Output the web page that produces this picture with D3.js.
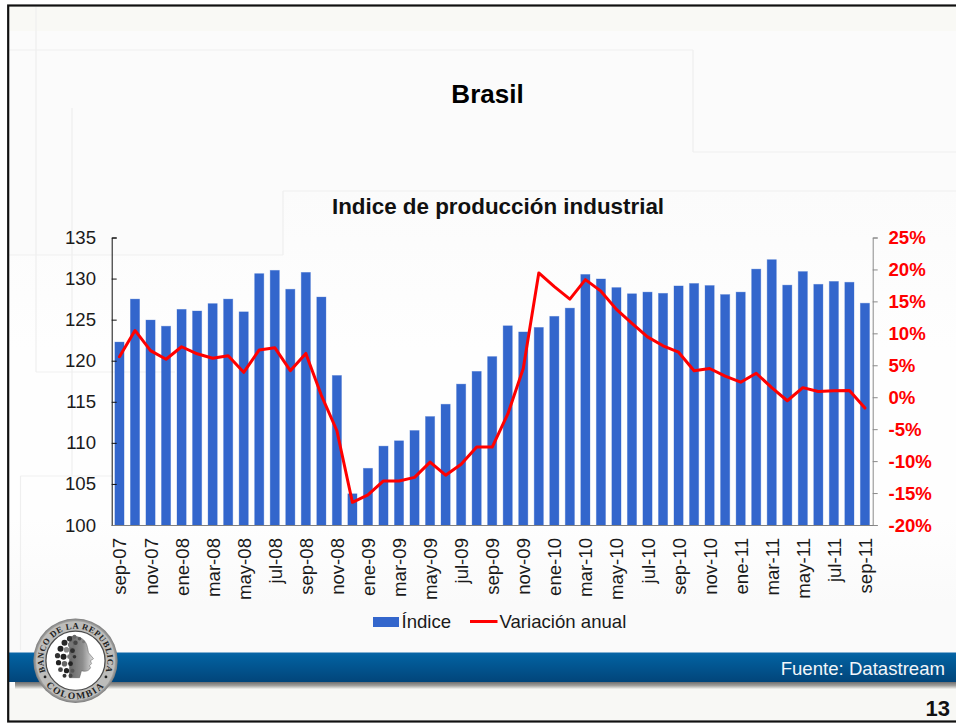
<!DOCTYPE html>
<html lang="es">
<head>
<meta charset="utf-8">
<title>Brasil - Indice de producción industrial</title>
<script src="https://cdn.jsdelivr.net/npm/d3@7"></script>
<style>
html,body{margin:0;padding:0;background:#fff;overflow:hidden}
svg{display:block}
text{font-family:"Liberation Sans",Arial,sans-serif}
</style>
</head>
<body>
<div id="chart"></div>
<script>
const categories = ["sep-07","oct-07","nov-07","dic-07","ene-08","feb-08","mar-08","abr-08","may-08","jun-08","jul-08","ago-08","sep-08","oct-08","nov-08","dic-08","ene-09","feb-09","mar-09","abr-09","may-09","jun-09","jul-09","ago-09","sep-09","oct-09","nov-09","dic-09","ene-10","feb-10","mar-10","abr-10","may-10","jun-10","jul-10","ago-10","sep-10","oct-10","nov-10","dic-10","ene-11","feb-11","mar-11","abr-11","may-11","jun-11","jul-11","ago-11","sep-11"];
const indice = [122.27,127.5,124.95,124.2,126.25,126.05,126.95,127.5,125.95,130.6,131.0,128.7,130.75,127.75,118.2,103.8,106.9,109.6,110.25,111.5,113.2,114.7,117.15,118.7,120.5,124.25,123.5,124.05,125.4,126.4,130.5,129.95,128.9,128.15,128.35,128.2,129.1,129.4,129.15,128.05,128.35,131.15,132.3,129.2,130.85,129.3,129.65,129.55,127.0];
const variacion = [6.33,10.45,7.3,5.95,7.9,6.8,6.1,6.5,3.9,7.4,7.75,4.15,6.85,0.3,-5.25,-16.45,-15.3,-13.1,-13.1,-12.55,-10.15,-12.2,-10.5,-7.8,-7.8,-2.65,4.5,19.45,17.3,15.35,18.4,16.6,13.75,11.55,9.45,8.05,7.05,4.15,4.5,3.3,2.35,3.75,1.5,-0.55,1.5,0.9,1.0,1.05,-1.7];
const leftTicks = [100,105,110,115,120,125,130,135];
const rightTicks = [-20,-15,-10,-5,0,5,10,15,20,25];
const slideTitle = "Brasil";
const chartTitle = "Indice de producción industrial";
const seriesNames = ["Índice","Variación anual"];
const sourceText = "Fuente: Datastream";
const pageNumber = "13";

const W = 956, H = 723;
const svg = d3.select("#chart").append("svg").attr("width",W).attr("height",H).attr("viewBox",`0 0 ${W} ${H}`);
const defs = svg.append("defs");

/* slide background */
const bgGrad = defs.append("linearGradient").attr("id","bg").attr("x1",0).attr("x2",0).attr("y1",0).attr("y2",1);
[[0,"#fbfbfb"],[0.3,"#fefefe"],[0.62,"#fefefe"],[0.78,"#fafafa"],[1,"#fafafa"]].forEach(s=>bgGrad.append("stop").attr("offset",s[0]).attr("stop-color",s[1]));
svg.append("rect").attr("x",8).attr("y",5).attr("width",W).attr("height",716).attr("fill","#fbfbfb");
svg.append("rect").attr("x",8).attr("y",190).attr("width",W).attr("height",530).attr("fill","url(#bg)");
svg.append("rect").attr("x",8).attr("y",5).attr("width",W).attr("height",26).attr("fill","#f9f9f5");
svg.append("rect").attr("x",8).attr("y",688).attr("width",W).attr("height",33).attr("fill","#f8f8f5");
svg.append("rect").attr("x",8).attr("y",31).attr("width",275).attr("height",224).attr("fill","#fbfbfb");

const faint = [[36,7,36,372],[36,372,175,372],[72,108,72,476],[9,50,693,50],[693,50,693,152],[693,152,956,152],[283,191,956,191],[283,191,283,255],[9,255,283,255],[20.5,476,20.5,650],[20.5,476,112,476]];
svg.append("g").selectAll("line").data(faint).join("line")
  .attr("x1",d=>d[0]).attr("y1",d=>d[1]).attr("x2",d=>d[2]).attr("y2",d=>d[3])
  .attr("stroke","#efefef").attr("stroke-width",1.2);

/* footer band */
const bandGrad = defs.append("linearGradient").attr("id","band").attr("x1",0).attr("x2",0).attr("y1",0).attr("y2",1);
[[0,"#0a66a8"],[0.12,"#02609f"],[1,"#02457a"]].forEach(s=>bandGrad.append("stop").attr("offset",s[0]).attr("stop-color",s[1]));
const shadowGrad = defs.append("linearGradient").attr("id","shadow").attr("x1",0).attr("x2",0).attr("y1",0).attr("y2",1);
[[0,"#6f6f6f"],[0.5,"#a09f9c"],[1,"#f4f4f1"]].forEach(s=>shadowGrad.append("stop").attr("offset",s[0]).attr("stop-color",s[1]));
svg.append("rect").attr("x",15).attr("y",682).attr("width",W).attr("height",7).attr("fill","url(#shadow)");
svg.append("rect").attr("x",9).attr("y",652.5).attr("width",W).attr("height",29.5).attr("fill","url(#band)");
svg.append("text").attr("x",945).attr("y",675).attr("text-anchor","end").attr("font-size",18.6).attr("fill","#f2f6fa").text(sourceText);
svg.append("text").attr("x",950).attr("y",716).attr("text-anchor","end").attr("font-size",22).attr("font-weight","bold").attr("fill","#111").text(pageNumber);

/* frame */
svg.append("rect").attr("x",8.2).attr("y",5.5).attr("width",W+20).attr("height",716).attr("fill","none").attr("stroke","#111").attr("stroke-width",2.2);

/* titles */
svg.append("text").attr("x",487.5).attr("y",103).attr("text-anchor","middle").attr("font-size",26).attr("font-weight","bold").attr("fill","#000").text(slideTitle);
svg.append("text").attr("x",498).attr("y",213.5).attr("text-anchor","middle").attr("font-size",22.4).attr("font-weight","bold").attr("fill","#111").text(chartTitle);

/* scales */
const plot = {left:111.7,right:872.7,top:237.5,bottom:525};
const x = d3.scaleBand().domain(categories).range([plot.left,plot.right]).paddingInner(0.41).paddingOuter(0.205);
const yL = d3.scaleLinear().domain([100,135]).range([plot.bottom,plot.top]);
const yR = d3.scaleLinear().domain([-20,25]).range([plot.bottom,plot.top]);

/* bars */
svg.append("g").selectAll("rect").data(indice).join("rect")
  .attr("x",(d,i)=>x(categories[i])).attr("width",x.bandwidth())
  .attr("y",d=>yL(d)).attr("height",d=>yL(100)-yL(d))
  .attr("fill","#3366cc").attr("stroke","#3366cc").attr("stroke-opacity",0.4).attr("stroke-width",0.8);

/* axes */
const axL = svg.append("g").attr("transform",`translate(${plot.left},0)`)
  .call(d3.axisRight(yL).tickValues(leftTicks).tickSize(5).tickFormat(""));
axL.selectAll("path,line").attr("stroke","#111").attr("stroke-width",1);
svg.append("g").selectAll("text").data(leftTicks).join("text")
  .attr("x",96).attr("y",d=>yL(d)+6.5).attr("text-anchor","end").attr("font-size",18.6).attr("fill","#1a1a1a").text(d=>d);

const axR = svg.append("g").attr("transform",`translate(${plot.right},0)`)
  .call(d3.axisRight(yR).tickValues(rightTicks).tickSize(5).tickFormat(""));
axR.selectAll("path,line").attr("stroke","#8a8a8a").attr("stroke-width",1);
svg.append("g").selectAll("text").data(rightTicks).join("text")
  .attr("x",888.5).attr("y",d=>yR(d)+6.5).attr("font-size",18.6).attr("font-weight","bold").attr("fill","#ff0000").text(d=>d+"%");

const axB = svg.append("g").attr("transform",`translate(0,${plot.bottom})`)
  .call(d3.axisBottom(x).tickValues(categories.filter((d,i)=>i%2===0)).tickSize(0).tickPadding(13).tickFormat(d=>d));
axB.select("path").attr("stroke","#808080").attr("stroke-width",1);
axB.selectAll("text")
  .attr("font-family","'Liberation Sans',Arial,sans-serif").attr("font-size",18.6).attr("fill","#1a1a1a")
  .attr("text-anchor","end")
  .attr("x",0).attr("y",0).attr("dy",null)
  .attr("transform","translate(7,13) rotate(-90)");

/* line */
const line = d3.line().x((d,i)=>x(categories[i])+x.bandwidth()/2).y(d=>yR(d));
svg.append("path").datum(variacion).attr("d",line).attr("fill","none").attr("stroke","#ff0000").attr("stroke-width",3).attr("stroke-linejoin","round").attr("stroke-linecap","round");

/* legend */
svg.append("rect").attr("x",373).attr("y",617).attr("width",26).attr("height",10).attr("fill","#3366cc");
svg.append("text").attr("x",401.5).attr("y",627.5).attr("font-size",18.6).attr("fill","#1a1a1a").text(seriesNames[0]);
svg.append("line").attr("x1",470).attr("x2",497.5).attr("y1",621.5).attr("y2",621.5).attr("stroke","#ff0000").attr("stroke-width",3);
svg.append("text").attr("x",499.5).attr("y",627.5).attr("font-size",18.6).attr("fill","#1a1a1a").text(seriesNames[1]);

/* seal */
const cx=75.5, cy=660.7;
const logo = svg.append("g").attr("transform",`translate(${cx},${cy})`);
const ring = defs.append("radialGradient").attr("id","ring");
[[0.7,"#8d8d8d"],[0.92,"#b0b0ae"],[1,"#7c7c7c"]].forEach(s=>ring.append("stop").attr("offset",s[0]).attr("stop-color",s[1]));
logo.append("circle").attr("r",42.2).attr("fill","url(#ring)");
logo.append("circle").attr("r",39.5).attr("fill","#bdbdbb");
logo.append("circle").attr("r",29.6).attr("fill","#fff").attr("stroke","#4d4d4d").attr("stroke-width",1.3);
const polar = (deg,r)=>{const a=deg*Math.PI/180;return [r*Math.sin(a),-r*Math.cos(a)];};
const [tx0,ty0]=polar(-108,32), [tx1,ty1]=polar(108,32);
defs.append("path").attr("id","arcTop").attr("d",`M${tx0},${ty0} A32,32 0 1 1 ${tx1},${ty1}`);
const [bx0,by0]=polar(-125,38.5), [bx1,by1]=polar(125,38.5);
defs.append("path").attr("id","arcBot").attr("d",`M${bx0},${by0} A38.5,38.5 0 0 0 ${bx1},${by1}`);
logo.append("text").attr("font-size",8.6).attr("font-weight","bold").attr("fill","#222").style("font-family","'Liberation Serif',serif").attr("letter-spacing",0.55)
  .append("textPath").attr("href","#arcTop").attr("startOffset","50%").attr("text-anchor","middle").text("BANCO DE LA REPUBLICA");
logo.append("text").attr("font-size",9.6).attr("font-weight","bold").attr("fill","#222").style("font-family","'Liberation Serif',serif").attr("letter-spacing",1.6)
  .append("textPath").attr("href","#arcBot").attr("startOffset","50%").attr("text-anchor","middle").text("COLOMBIA");
logo.selectAll("circle.dot").data([polar(-118,34.5),polar(118,34.5)]).join("circle").attr("class","dot").attr("cx",d=>d[0]).attr("cy",d=>d[1]).attr("r",1.4).attr("fill","#222");
const face = defs.append("linearGradient").attr("id","face").attr("x1",0).attr("x2",1).attr("y1",0).attr("y2",0);
[[0,"#666"],[0.55,"#8e8e8e"],[0.85,"#c4c4c4"],[1,"#e0e0e0"]].forEach(s=>face.append("stop").attr("offset",s[0]).attr("stop-color",s[1]));
defs.append("filter").attr("id","soft").append("feGaussianBlur").attr("stdDeviation",0.45);
const head = logo.append("g").attr("filter","url(#soft)");
head.append("path").attr("d","M-6,-24 C5,-26 11,-20 12,-13 L13,-8 L18,-2 L15,0 L16,3 L14,5 L15,7 C13,11 9,11 6,10 L4,17 L-6,17 Z").attr("fill","url(#face)").attr("stroke","#555").attr("stroke-width",0.5);
const curls=[[-6,-22,2.6,"#333"],[-1,-24,2,"#666"],[-11,-18,3,"#2a2a2a"],[-5,-16,2.6,"#777"],[0,-18,2.2,"#444"],[-15,-12,3,"#222"],[-9,-11,2.8,"#888"],[-3,-10,2.4,"#2d2d2d"],[-18,-5,2.6,"#333"],[-12,-4,3,"#222"],[-6,-4,2.4,"#777"],[-1,-4,1.8,"#333"],[-17,2,2.6,"#222"],[-11,3,2.8,"#666"],[-5,3,2.4,"#222"],[-15,9,2.4,"#444"],[-9,10,2.6,"#222"],[-3,10,2,"#555"],[-11,15,2,"#333"],[-5,15,2,"#444"],[4,-22,1.8,"#555"],[8,-19,1.5,"#777"]];
head.append("g").selectAll("circle").data(curls).join("circle").attr("cx",d=>d[0]).attr("cy",d=>d[1]).attr("r",d=>d[2]).attr("fill",d=>d[3]);
</script>
</body>
</html>
